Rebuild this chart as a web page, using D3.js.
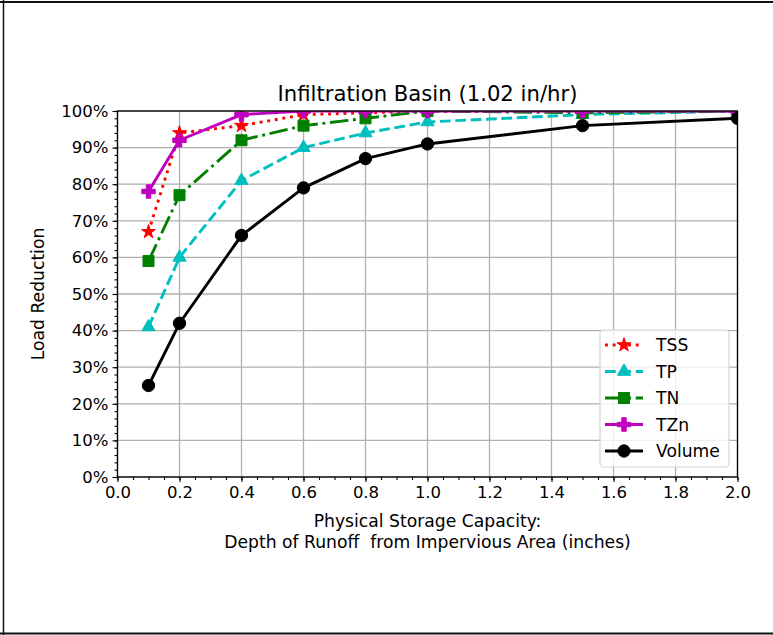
<!DOCTYPE html>
<html>
<head>
<meta charset="utf-8">
<script src="https://cdn.jsdelivr.net/npm/d3@7"></script>
<style>
  html, body { margin: 0; padding: 0; background: #fff; }
  svg { display: block; font-family: "DejaVu Sans", sans-serif; }
  text { white-space: pre; }
</style>
</head>
<body>
<svg id="chart" width="773" height="635"></svg>
<script>
// ---- data ----
const depths = [0.1, 0.2, 0.4, 0.6, 0.8, 1.0, 1.5, 2.0];
const tss    = [67, 94, 96, 99, 99.5, 100, 100, 100];
const tp     = [41, 60, 81, 90, 94, 97, 99, 100];
const tn     = [59, 77, 92, 96, 98, 100, 99.5, 100];
const tzn    = [78, 92, 99, 100, 100, 100, 100, 100];
const volume = [25, 42, 66, 79, 87, 91, 96, 98];
const seriesNames = ["TSS", "TP", "TN", "TZn", "Volume"];
const xTicks = [0.0, 0.2, 0.4, 0.6, 0.8, 1.0, 1.2, 1.4, 1.6, 1.8, 2.0];
const yTicks = [0, 10, 20, 30, 40, 50, 60, 70, 80, 90, 100];
const titleText = "Infiltration Basin (1.02 in/hr)";
const xLabelLines = ["Physical Storage Capacity:", "Depth of Runoff  from Impervious Area (inches)"];
const yLabelText = "Load Reduction";

// ---- styles ----
const lw = 2.9;
const styles = [
  { values: tss,    color: "#ff0000", dash: [lw*1, lw*1.65].join(","), symbol: d3.symbolStar,     size: 60 },
  { values: tp,     color: "#00bfbf", dash: [lw*3.7, lw*1.6].join(","), symbol: d3.symbolTriangle, size: 75 },
  { values: tn,     color: "#008000", dash: [lw*6.4, lw*1.6, lw*1, lw*1.6].join(","), symbol: d3.symbolSquare, size: 121 },
  { values: tzn,    color: "#bf00bf", dash: null, symbol: d3.symbolCross,    size: 100 },
  { values: volume, color: "#000000", dash: null, symbol: d3.symbolCircle,   size: 120 }
];

const svg = d3.select("#chart");
const W = 773, H = 635;

// outer frame
svg.append("line").attr("x1", 0).attr("x2", W).attr("y1", 2).attr("y2", 2).attr("stroke", "#111").attr("stroke-width", 2);
svg.append("line").attr("x1", 3.5).attr("x2", 3.5).attr("y1", 0).attr("y2", H).attr("stroke", "#111").attr("stroke-width", 1.5);
svg.append("line").attr("x1", 0).attr("x2", W).attr("y1", 633.5).attr("y2", 633.5).attr("stroke", "#111").attr("stroke-width", 2);

const L = 117.5, R = 737.5, T = 111, B = 477;
const x = d3.scaleLinear().domain([0, 2]).range([L, R]);
const y = d3.scaleLinear().domain([0, 100]).range([B, T]);

// grid
const grid = svg.append("g");
xTicks.forEach(t => grid.append("line").attr("x1", x(t)).attr("x2", x(t)).attr("y1", T).attr("y2", B)
  .attr("stroke", "#b0b0b0").attr("stroke-width", 1.3));
yTicks.forEach(t => grid.append("line").attr("x1", L).attr("x2", R).attr("y1", y(t)).attr("y2", y(t))
  .attr("stroke", "#b0b0b0").attr("stroke-width", 1.3));

// clip
svg.append("clipPath").attr("id", "clip").append("rect")
  .attr("x", L).attr("y", T).attr("width", R - L).attr("height", B - T);
const plot = svg.append("g").attr("clip-path", "url(#clip)");

const line = d3.line().x((d, i) => x(depths[i])).y(d => y(d));
styles.forEach(s => {
  const p = plot.append("path").datum(s.values).attr("d", line)
    .attr("fill", "none").attr("stroke", s.color).attr("stroke-width", lw)
    .attr("stroke-linejoin", "round");
  if (s.dash) p.attr("stroke-dasharray", s.dash);
  else p.attr("stroke-linecap", "square");
  plot.selectAll(null).data(s.values).enter().append("path")
    .attr("d", d3.symbol().type(s.symbol).size(s.size))
    .attr("transform", (d, i) => `translate(${x(depths[i])},${y(d)})`)
    .attr("fill", s.color).attr("stroke", s.color).attr("stroke-width", 1);
});

// axes
const xAxis = d3.axisBottom(x).tickValues(xTicks).tickFormat(d3.format(".1f")).tickSize(5).tickPadding(4);
const xMinor = d3.axisBottom(x).tickValues(d3.range(0, 2.0001, 0.05)).tickFormat("").tickSize(3);
const yAxis = d3.axisLeft(y).tickValues(yTicks).tickFormat(d => d + "%").tickSize(5).tickPadding(4);
const yMinor = d3.axisLeft(y).tickValues(d3.range(0, 100.001, 2)).tickFormat("").tickSize(3);

function styleAxis(g, fs) {
  g.select(".domain").remove();
  g.selectAll("line").attr("stroke", "#000").attr("stroke-width", 1.1);
  g.selectAll("text").attr("fill", "#000").style("font-size", fs + "px").style("font-family", "DejaVu Sans");
}
svg.append("g").attr("transform", `translate(0,${B})`).call(xMinor).call(g => styleAxis(g, 16));
svg.append("g").attr("transform", `translate(0,${B})`).call(xAxis).call(g => styleAxis(g, 16.5));
svg.append("g").attr("transform", `translate(${L},0)`).call(yMinor).call(g => styleAxis(g, 16));
svg.append("g").attr("transform", `translate(${L},0)`).call(yAxis).call(g => styleAxis(g, 16.5));

// spines
svg.append("rect").attr("x", L).attr("y", T).attr("width", R - L).attr("height", B - T)
  .attr("fill", "none").attr("stroke", "#000").attr("stroke-width", 1.3);

// title
svg.append("text").attr("x", (L + R) / 2).attr("y", 100.5).attr("text-anchor", "middle")
  .style("font-size", "21.2px").attr("fill", "#000").text(titleText);

// x label
xLabelLines.forEach((t, i) => svg.append("text").attr("x", (L + R) / 2).attr("y", 527 + i * 21)
  .attr("text-anchor", "middle").style("font-size", "17.2px").attr("fill", "#000").text(t));

// y label
svg.append("text").attr("transform", `translate(44,${(T + B) / 2}) rotate(-90)`)
  .attr("text-anchor", "middle").style("font-size", "17.2px").attr("fill", "#000").text(yLabelText);

// legend
const lg = svg.append("g");
lg.append("rect").attr("x", 600).attr("y", 330).attr("width", 129).attr("height", 137).attr("rx", 4)
  .attr("fill", "#fff").attr("fill-opacity", 0.8).attr("stroke", "#d6d6d6").attr("stroke-width", 1.2);
styles.forEach((s, i) => {
  const cy = 345 + i * 26.5;
  const l = lg.append("line").attr("x1", 605).attr("x2", 643).attr("y1", cy).attr("y2", cy)
    .attr("stroke", s.color).attr("stroke-width", lw);
  if (s.dash) l.attr("stroke-dasharray", s.dash);
  lg.append("path").attr("d", d3.symbol().type(s.symbol).size(s.size))
    .attr("transform", `translate(624,${cy})`).attr("fill", s.color).attr("stroke", s.color).attr("stroke-width", 1);
  lg.append("text").attr("x", 656).attr("y", cy + 6).style("font-size", "17.2px").attr("fill", "#000")
    .text(seriesNames[i]);
});
</script>
</body>
</html>
